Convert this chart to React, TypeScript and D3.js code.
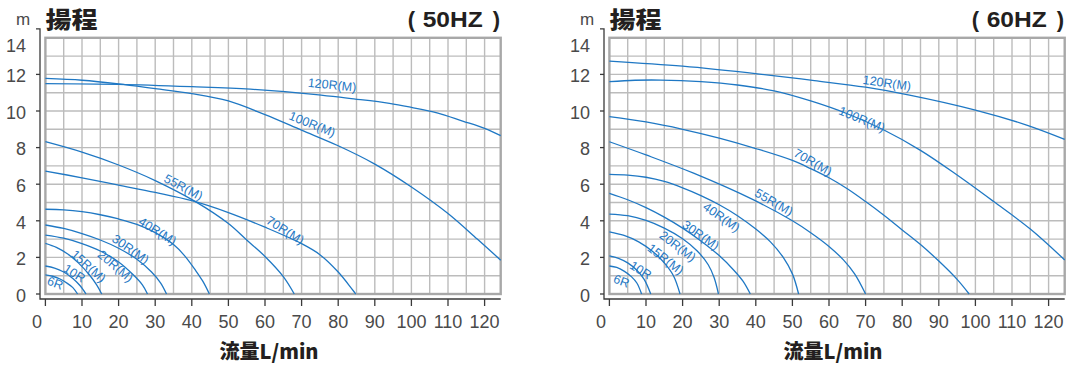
import React from 'react';
import * as d3 from 'd3';

type Pt = [number, number];

// 50HZ 曲線 (流量 L/min, 揚程 m)
const hz50_6R: Pt[] = [[0, 1.04], [2, 0.97], [4, 0.82], [6, 0.58], [7.5, 0.35], [8.8, 0]];
const hz50_10R: Pt[] = [[0, 1.53], [2.5, 1.42], [5, 1.2], [7.5, 0.85], [9.5, 0.45], [11.1, 0]];
const hz50_15R: Pt[] = [[0, 2.77], [3, 2.55], [6, 2.2], [9, 1.7], [12, 1.05], [14, 0.5], [15.4, 0]];
const hz50_20R: Pt[] = [[0, 3.22], [5, 3.05], [10, 2.75], [15, 2.35], [20, 1.75], [24, 1.05], [26.5, 0.5], [27.9, 0]];
const hz50_30R: Pt[] = [[0, 3.77], [5, 3.58], [10, 3.3], [15, 2.95], [20, 2.5], [25, 1.9], [29, 1.2], [31.5, 0.6], [33.1, 0]];
const hz50_40R: Pt[] = [[0, 4.63], [5, 4.6], [10, 4.5], [15, 4.33], [20, 4.1], [25, 3.8], [30, 3.35], [35, 2.7], [38, 2.1], [41, 1.3], [43, 0.7], [44.8, 0]];
const hz50_55R: Pt[] = [[0, 8.32], [10, 7.75], [20, 7.05], [30, 6.2], [41, 5.05], [50, 3.85], [55, 2.95], [60, 2.05], [65, 0.95], [68, 0]];
const hz50_70R: Pt[] = [[0, 6.72], [10, 6.35], [20, 5.95], [30, 5.55], [40, 5.1], [50, 4.45], [60, 3.65], [70, 2.75], [75, 2.15], [80, 1.2], [84.8, 0]];
const hz50_100R: Pt[] = [[0, 11.78], [10, 11.68], [20, 11.48], [30, 11.22], [40, 10.95], [50, 10.55], [60, 9.8], [70, 8.95], [80, 8.1], [90, 7.1], [100, 5.85], [110, 4.4], [118, 3.0], [124.4, 1.85]];
const hz50_120R: Pt[] = [[0, 11.5], [20, 11.46], [40, 11.33], [56, 11.19], [74, 10.9], [83, 10.69], [94, 10.42], [100, 10.2], [107, 9.9], [114, 9.45], [120, 9.05], [124.4, 8.65]];

// 60HZ 曲線
const hz60_6R: Pt[] = [[0, 1.53], [2, 1.45], [4, 1.25], [6, 0.95], [7.5, 0.6], [8.8, 0]];
const hz60_10R: Pt[] = [[0, 2.08], [2.5, 1.95], [5, 1.7], [7.5, 1.3], [9.5, 0.8], [11.3, 0]];
const hz60_15R: Pt[] = [[0, 3.4], [4, 3.2], [8, 2.85], [12, 2.3], [15, 1.7], [17.5, 1.0], [19.3, 0]];
const hz60_20R: Pt[] = [[0, 4.37], [5, 4.28], [10, 4.02], [15, 3.6], [20, 3.02], [24, 2.35], [27, 1.6], [28.6, 0.9], [29.8, 0]];
const hz60_30R: Pt[] = [[0, 5.5], [5, 5.15], [10, 4.72], [15, 4.2], [20, 3.6], [25, 2.9], [30, 2.1], [34, 1.3], [36.5, 0.7], [38.5, 0]];
const hz60_40R: Pt[] = [[0, 6.54], [5, 6.5], [10, 6.38], [15, 6.15], [20, 5.8], [25, 5.38], [30, 4.88], [35, 4.28], [40, 3.55], [44, 2.85], [47.5, 2.0], [50, 1.1], [51.7, 0]];
const hz60_55R: Pt[] = [[0, 8.32], [10, 7.6], [23, 6.6], [39.4, 5.14], [50, 4.0], [55, 3.35], [60, 2.6], [64, 1.85], [67, 1.1], [70, 0]];
const hz60_70R: Pt[] = [[0, 9.69], [10, 9.4], [20, 9.0], [30, 8.52], [40, 7.95], [50, 7.3], [55, 6.85], [60, 6.35], [65, 5.75], [70, 5.05], [75, 4.3], [80, 3.5], [85, 2.7], [90, 1.8], [95, 0.8], [98.3, 0]];
const hz60_100R: Pt[] = [[0, 11.6], [7, 11.68], [14, 11.69], [25, 11.6], [35, 11.42], [45, 11.1], [55, 10.55], [65, 9.85], [75, 8.96], [85, 7.85], [95, 6.5], [105, 5.05], [115, 3.55], [124.4, 1.86]];
const hz60_120R: Pt[] = [[0, 12.73], [20, 12.45], [41, 12.02], [56, 11.66], [70, 11.3], [82, 10.87], [100, 10.05], [114, 9.23], [124.4, 8.45]];

const series50: [string, Pt[]][] = [
  ['6R', hz50_6R], ['10R', hz50_10R], ['15R(M)', hz50_15R], ['20R(M)', hz50_20R], ['30R(M)', hz50_30R],
  ['40R(M)', hz50_40R], ['55R(M)', hz50_55R], ['70R(M)', hz50_70R], ['100R(M)', hz50_100R], ['120R(M)', hz50_120R],
];
const series60: [string, Pt[]][] = [
  ['6R', hz60_6R], ['10R', hz60_10R], ['15R(M)', hz60_15R], ['20R(M)', hz60_20R], ['30R(M)', hz60_30R],
  ['40R(M)', hz60_40R], ['55R(M)', hz60_55R], ['70R(M)', hz60_70R], ['100R(M)', hz60_100R], ['120R(M)', hz60_120R],
];

// ラベル位置 [名前, 流量, 揚程, 角度]
const labels50: [string, number, number, number][] = [
  ['120R(M)', 78.3, 11.37, 6], ['100R(M)', 72.8, 9.23, 22], ['55R(M)', 37.6, 5.79, 28], ['70R(M)', 65.4, 3.44, 32],
  ['40R(M)', 30.5, 3.39, 32], ['30R(M)', 23.1, 2.4, 35], ['20R(M)', 19.0, 1.48, 40], ['15R(M)', 11.6, 1.48, 42],
  ['10R', 7.8, 1.09, 32], ['6R', 2.6, 0.55, 20],
];
const labels60: [string, number, number, number][] = [
  ['120R(M)', 75.8, 11.48, 8], ['100R(M)', 68.9, 9.5, 22], ['70R(M)', 55.5, 7.16, 30], ['55R(M)', 44.8, 4.97, 30],
  ['40R(M)', 30.5, 4.15, 35], ['30R(M)', 24.8, 3.17, 35], ['20R(M)', 18.5, 2.57, 37], ['15R(M)', 15.2, 1.86, 38],
  ['10R', 8.4, 1.26, 32], ['6R', 3.2, 0.66, 20],
];

const yTicks = [0, 2, 4, 6, 8, 10, 12, 14];
const xTicks = [0, 10, 20, 30, 40, 50, 60, 70, 80, 90, 100, 110, 120];
const xMax = 124.4;

const blue = '#1f78c4';
const numFont = '"Liberation Sans", Arial, sans-serif';
const cjkFont = '"Noto Sans CJK JP", "Noto Sans CJK TC", sans-serif';

const Panel = ({ dx, hz, series, labels }: { dx: number; hz: string; series: [string, Pt[]][]; labels: [string, number, number, number][] }) => {
  const x = d3.scaleLinear().domain([0, xMax]).range([45.4 + dx, 45.4 + dx + xMax * 3.66]);
  const y = d3.scaleLinear().domain([0, 14]).range([294, 37.8]);
  const line = d3.line<Pt>().x(d => x(d[0])).y(d => y(d[1])).curve(d3.curveCatmullRom.alpha(0.5));

  const axX = x(0) - 5.4;
  const axY = y(0) + 5;

  return (
    <g>
      {/* 格子 */}
      {d3.range(5, 121, 5).map(v => (
        <line key={'v' + v} x1={x(v)} x2={x(v)} y1={y(0)} y2={y(14)} stroke="#bcbcbc" strokeWidth={1.4} />
      ))}
      {d3.range(1, 14).map(v => (
        <line key={'h' + v} x1={x(0)} x2={x(xMax)} y1={y(v)} y2={y(v)} stroke="#bcbcbc" strokeWidth={1.4} />
      ))}
      <rect x={x(0)} y={y(14)} width={x(xMax) - x(0)} height={y(0) - y(14)} fill="none" stroke="#a8a8a8" strokeWidth={2.4} />

      {/* 曲線 */}
      {series.map(([name, pts]) => (
        <path key={name} d={line(pts) || ''} fill="none" stroke={blue} strokeWidth={1.3} />
      ))}
      {labels.map(([name, fx, fy, ang]) => (
        <text key={name} x={x(fx)} y={y(fy)} transform={`rotate(${ang},${x(fx)},${y(fy)})`}
          textAnchor="middle" dominantBaseline="middle" fontFamily={numFont} fontSize={12.5} fill={blue}>{name}</text>
      ))}

      {/* 軸 */}
      <path d={`M${axX - 4},${y(14) - 9}H${axX}V${axY}H${x(xMax)}`} fill="none" stroke="#3a3a3a" strokeWidth={1.3} />
      {yTicks.slice(0, -1).map(v => (
        <line key={'yt' + v} x1={axX - 4} x2={axX} y1={y(v)} y2={y(v)} stroke="#3a3a3a" strokeWidth={1.3} />
      ))}
      {yTicks.map(v => (
        <text key={'yl' + v} x={axX - 14} y={y(v) + (v === 14 ? 9 : 3)} textAnchor="end" dominantBaseline="middle"
          fontFamily={numFont} fontSize={18} fill="#4a4a4a">{v}</text>
      ))}
      {xTicks.map(v => (
        <line key={'xt' + v} x1={x(v)} x2={x(v)} y1={axY} y2={axY + 7} stroke="#3a3a3a" strokeWidth={1.3} />
      ))}
      {xTicks.map(v => (
        <text key={'xl' + v} x={v === 0 ? axX - 3 : x(v)} y={axY + 24} textAnchor="middle" dominantBaseline="middle"
          fontFamily={numFont} fontSize={18} fill="#4a4a4a">{v}</text>
      ))}

      {/* タイトル */}
      <text x={axX - 24} y={25} fontFamily={numFont} fontSize={17} fill="#4a4a4a">m</text>
      <text x={x(0)} y={28} fontFamily={cjkFont} fontWeight={900} fontSize={23} fill="#231f20"
        textLength={52} lengthAdjust="spacingAndGlyphs">揚程</text>
      <text x={x(xMax) - 93} y={27} fontFamily={numFont} fontWeight={700} fontSize={22} fill="#231f20">(</text>
      <text x={x(xMax) - 78} y={27} fontFamily={numFont} fontWeight={700} fontSize={22} fill="#231f20"
        textLength={60} lengthAdjust="spacingAndGlyphs">{hz}</text>
      <text x={x(xMax) - 8} y={27} fontFamily={numFont} fontWeight={700} fontSize={22} fill="#231f20">)</text>
      <text x={(x(0) + x(xMax)) / 2 - 4} y={359} textAnchor="middle" fontFamily={cjkFont} fontWeight={900}
        fontSize={20} fill="#231f20">流量L/min</text>
    </g>
  );
};

export default function App() {
  return (
    <svg width={1072} height={365} style={{ position: 'absolute', left: 0, top: 0, background: '#fff' }}>
      <Panel dx={0} hz="50HZ" series={series50} labels={labels50} />
      <Panel dx={564} hz="60HZ" series={series60} labels={labels60} />
    </svg>
  );
}
